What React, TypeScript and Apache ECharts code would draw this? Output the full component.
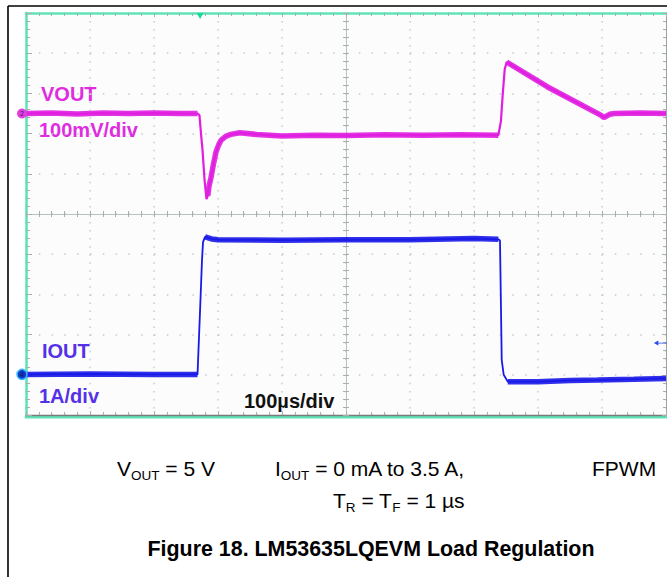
import React, { useEffect, useRef } from "react";
import * as echarts from "echarts";

// ---- data read from the scope capture ----
// time in µs (100 µs/div, 10 div)
const VOUT_T = [0, 40, 80, 120, 160, 200, 240, 268, 271, 274, 276, 279, 282, 284, 286, 289, 293, 297, 301, 305, 312, 320, 334, 360, 400, 450, 500, 560, 620, 680, 738, 742, 745, 748, 751, 815, 898, 903, 912, 919, 960, 1000];
// VOUT deviation in mV (100 mV/div)
const VOUT_MV = [0, 1, -1, 1, 0, 1, 0, 0, -4, -60, -95, -166, -213, -205, -180, -160, -125, -95, -78, -66, -57, -52, -48, -52, -56, -54, -55, -53, -54, -53, -54, -20, 50, 110, 128, 66, -4, -10, -2, 0, 1, 0];
const IOUT_T = [0, 100, 200, 268, 272, 275, 276.6, 279.7, 290, 300, 400, 500, 600, 700, 738, 740.6, 742.2, 743.3, 746.4, 752.7, 800, 850, 893, 950, 1000];
// IOUT in A (1 A/div)
const IOUT_A = [0, 0.01, 0, 0, 1.6, 2.84, 3.29, 3.42, 3.37, 3.35, 3.34, 3.35, 3.35, 3.38, 3.36, 3.33, 1.6, 0.36, -0.01, -0.18, -0.18, -0.15, -0.14, -0.12, -0.1];
// time ranges where the trace is noisy / thick
const VOUT_BAND = [[0, 270], [284, 738], [751, 1000]];
const IOUT_BAND = [[0, 268], [279, 740], [752, 1000]];
const TRIGGER_T = 272;
const TRIG_LEVEL_A = 0.78;

const MAG = "#e01ee0";
const MAG_LABEL = "#e02ce0";
const BLUE = "#1a1ae8";
const BLUE_LABEL = "#5530e8";
const TEAL = "#5ee6b8";
const DOT = "#c2cccc";
const TICK = "#a6b0b0";
const FONT = '"Liberation Sans", Arial, sans-serif';

function pairs(t: number[], v: number[]) {
  return t.map((x, i) => [x, v[i]]);
}
function band(t: number[], v: number[], ranges: number[][]) {
  return t.map((x, i) =>
    ranges.some(([a, b]) => x >= a && x <= b) ? [x, v[i]] : [x, "-"]
  );
}

function borderAxis(extra: any) {
  return {
    type: "value",
    axisLabel: { show: false },
    splitLine: { show: false },
    axisTick: { show: true, inside: true, length: 4, lineStyle: { color: TICK } },
    minorTick: { show: true, splitNumber: 5, length: 3, lineStyle: { color: TICK } },
    ...extra,
  };
}

export default function App() {
  const ref = useRef<HTMLDivElement>(null);
  useEffect(() => {
    if (!ref.current) return;
    const chart = echarts.init(ref.current, null, { renderer: "svg" });
    const labelFont = { fontFamily: FONT, fontWeight: "bold", fontSize: 20 };
    const rowBase = { fontFamily: FONT, fontSize: 21, fill: "#000", lineHeight: 28 };
    const rowSub = { fontFamily: FONT, fontSize: 13.5, fill: "#000", lineHeight: 28, verticalAlign: "bottom" };
    chart.setOption({
      animation: false,
      backgroundColor: "#ffffff",
      grid: { left: 26, top: 13, width: 640, height: 402, show: true, backgroundColor: "#fcfcfc", borderWidth: 0 },
      xAxis: [
        borderAxis({
          min: 0, max: 1000, interval: 100, position: "bottom",
          axisLine: { show: true, onZero: false, lineStyle: { color: "#7a7a7a", width: 1.3 } },
          splitLine: { show: true, lineStyle: { color: DOT, width: 1.5, type: [1.5, 6.54] } },
        }),
        borderAxis({
          min: 0, max: 1000, interval: 100, position: "top",
          axisLine: { show: true, onZero: false, lineStyle: { color: TEAL, width: 2.6 } },
        }),
        borderAxis({
          min: -5, max: 5, interval: 1, position: "bottom",
          axisLine: { show: true, onZero: true, onZeroAxisIndex: 0, lineStyle: { color: "#b8c2c2", width: 1 } },
          axisTick: { show: true, inside: true, length: 3, lineStyle: { color: TICK } },
          minorTick: { show: true, splitNumber: 5, length: 3, lineStyle: { color: TICK } },
        }),
        borderAxis({
          min: -5, max: 5, interval: 1, position: "bottom",
          axisLine: { show: false, onZero: true, onZeroAxisIndex: 0 },
          axisTick: { show: true, inside: false, length: 3, lineStyle: { color: TICK } },
          minorTick: { show: true, splitNumber: 5, length: 3, lineStyle: { color: TICK } },
        }),
      ],
      yAxis: [
        borderAxis({
          min: -5, max: 5, interval: 1, position: "left",
          axisLine: { show: true, onZero: false, lineStyle: { color: TEAL, width: 2.6 } },
          axisTick: { show: true, inside: true, length: 6, lineStyle: { color: TICK } },
          minorTick: { show: true, splitNumber: 5, length: 4, lineStyle: { color: TICK } },
          splitLine: { show: true, lineStyle: { color: DOT, width: 1.5, type: [1.5, 11.3] } },
        }),
        borderAxis({
          min: -5, max: 5, interval: 1, position: "right",
          axisLine: { show: true, onZero: false, lineStyle: { color: "#9aa4a4", width: 1 } },
        }),
        borderAxis({
          min: -5, max: 5, interval: 1, position: "left",
          axisLine: { show: true, onZero: true, onZeroAxisIndex: 2, lineStyle: { color: "#b8c2c2", width: 1 } },
          axisTick: { show: true, inside: true, length: 3, lineStyle: { color: TICK } },
          minorTick: { show: true, splitNumber: 5, length: 3, lineStyle: { color: TICK } },
        }),
        borderAxis({
          min: -5, max: 5, interval: 1, position: "left",
          axisLine: { show: false, onZero: true, onZeroAxisIndex: 2 },
          axisTick: { show: true, inside: false, length: 3, lineStyle: { color: TICK } },
          minorTick: { show: true, splitNumber: 5, length: 3, lineStyle: { color: TICK } },
        }),
        { type: "value", min: -750, max: 250, show: false },
        { type: "value", min: -1.01, max: 8.99, show: false },
      ],
      series: [
        {
          type: "line", name: "VOUT band", xAxisIndex: 0, yAxisIndex: 4,
          data: band(VOUT_T, VOUT_MV, VOUT_BAND), connectNulls: false,
          symbol: "none", lineStyle: { color: MAG, width: 5.5, opacity: 0.9 }, z: 3,
        },
        {
          type: "line", name: "VOUT", xAxisIndex: 0, yAxisIndex: 4,
          data: pairs(VOUT_T, VOUT_MV), symbol: "none",
          lineStyle: { color: MAG, width: 2.2 }, itemStyle: { color: MAG }, z: 4,
          markPoint: {
            animation: false,
            data: [
              {
                coord: [0, 0], symbol: "circle", symbolSize: 10, symbolOffset: [-4, 0],
                itemStyle: { color: "#e040e0" },
                label: { show: true, formatter: "2", fontSize: 7, color: "#5a105a", position: "inside" },
              },
              {
                coord: [TRIGGER_T, 250], symbol: "triangle", symbolRotate: 180, symbolSize: [7, 6], symbolOffset: [0, 3],
                itemStyle: { color: "#1ed89a" }, label: { show: false },
              },
            ],
          },
        },
        {
          type: "line", name: "IOUT band", xAxisIndex: 0, yAxisIndex: 5,
          data: band(IOUT_T, IOUT_A, IOUT_BAND), connectNulls: false,
          symbol: "none", lineStyle: { color: BLUE, width: 5.5, opacity: 0.9 }, z: 3,
        },
        {
          type: "line", name: "IOUT", xAxisIndex: 0, yAxisIndex: 5,
          data: pairs(IOUT_T, IOUT_A), symbol: "none",
          lineStyle: { color: BLUE, width: 1.8 }, itemStyle: { color: BLUE }, z: 4,
          markPoint: {
            animation: false,
            data: [
              {
                coord: [0, 0], symbol: "circle", symbolSize: 10, symbolOffset: [-4, 0],
                itemStyle: { color: "#1238c8", borderColor: "#40b8ff", borderWidth: 1.5 },
                label: { show: true, formatter: "4", fontSize: 7, color: "#0a1a60", position: "inside" },
              },
              {
                coord: [992, TRIG_LEVEL_A], symbol: "path://M0,5 L7,0 L7,10 Z M7,4.3 L22,4.3 L22,5.7 L7,5.7 Z",
                symbolSize: [14, 5], itemStyle: { color: "#2a4ae8" }, label: { show: false },
              },
            ],
          },
        },
      ],
      graphic: [
        { type: "line", shape: { x1: 8, y1: 6, x2: 667, y2: 6 }, style: { stroke: "#000", lineWidth: 1.6 } },
        { type: "line", shape: { x1: 8, y1: 6, x2: 8, y2: 577 }, style: { stroke: "#000", lineWidth: 1.6 } },
        { type: "line", shape: { x1: 24.7, y1: 417.3, x2: 667, y2: 417.3 }, style: { stroke: TEAL, lineWidth: 2.4 } },
        { type: "text", x: 41, y: 94, style: { text: "VOUT", fill: MAG_LABEL, ...labelFont, verticalAlign: "middle" } },
        { type: "text", x: 39, y: 130, style: { text: "100mV/div", fill: MAG_LABEL, ...labelFont, verticalAlign: "middle" } },
        { type: "text", x: 42, y: 351, style: { text: "IOUT", fill: BLUE_LABEL, ...labelFont, verticalAlign: "middle" } },
        { type: "text", x: 39, y: 396, style: { text: "1A/div", fill: BLUE_LABEL, ...labelFont, verticalAlign: "middle" } },
        { type: "text", x: 244, y: 401, style: { text: "100µs/div", fill: "#111", ...labelFont, verticalAlign: "middle" } },
        {
          type: "text", x: 117, y: 468,
          style: { text: "{a|V}{s|OUT}{a| = 5 V}", rich: { a: rowBase, s: rowSub }, verticalAlign: "middle" },
        },
        {
          type: "text", x: 275, y: 468,
          style: { text: "{a|I}{s|OUT}{a| = 0 mA to 3.5 A,}", rich: { a: rowBase, s: rowSub }, verticalAlign: "middle" },
        },
        {
          type: "text", x: 592, y: 468,
          style: { text: "{a|FPWM}", rich: { a: rowBase }, verticalAlign: "middle" },
        },
        {
          type: "text", x: 333, y: 500,
          style: { text: "{a|T}{s|R}{a| = T}{s|F}{a| = 1 µs}", rich: { a: rowBase, s: rowSub }, verticalAlign: "middle" },
        },
        {
          type: "text", x: 371, y: 549,
          style: {
            text: "Figure 18. LM53635LQEVM Load Regulation", fill: "#000",
            fontFamily: FONT, fontWeight: "bold", fontSize: 21.4, align: "center", verticalAlign: "middle",
          },
        },
      ],
    });
    return () => chart.dispose();
  }, []);
  return (
    <div
      ref={ref}
      style={{ position: "fixed", left: 0, top: 0, width: 667, height: 577, background: "#fff" }}
    />
  );
}
